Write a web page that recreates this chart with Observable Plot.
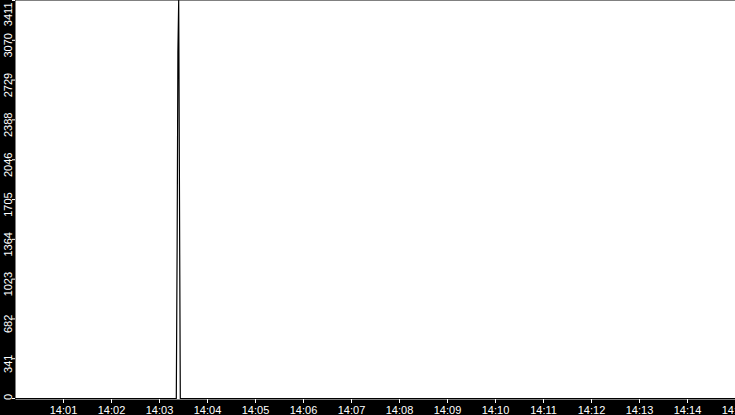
<!DOCTYPE html>
<html><head><meta charset="utf-8">
<script src="https://cdn.jsdelivr.net/npm/d3@7"></script>
<script src="https://cdn.jsdelivr.net/npm/@observablehq/plot@0.6"></script>
<style>
html,body{margin:0;padding:0;background:black;overflow:hidden;}
</style></head><body><div id="chart"></div>
<script>
// Sample times and values (value 0 except the spike just after 14:03)
const times = ["14:00:00","14:03:21","14:03:22","14:03:23","14:03:24","14:03:25","14:03:26","14:15:00"];
const values = [0, 0, 1251, 2965, 3411, 1705, 0, 0];
const xTickLabels = ["14:01","14:02","14:03","14:04","14:05","14:06","14:07","14:08","14:09","14:10","14:11","14:12","14:13","14:14","14:15"];
const yTickValues = [0, 341, 682, 1023, 1364, 1705, 2046, 2388, 2729, 3070, 3411];
const xStart = "14:00:00", xEnd = "14:15:00";

const parseT = d3.timeParse("%H:%M:%S");
const parseM = d3.timeParse("%H:%M");
const data = times.map((t, i) => ({t: parseT(t), v: values[i]}));
const xTicks = xTickLabels.map(parseM);
const fmt = d3.timeFormat("%H:%M");
const yMax = d3.max(yTickValues);
const midTicks = yTickValues.slice(1, -1);
const topTick = [yTickValues[yTickValues.length - 1]];
const botTick = [yTickValues[0]];

const font = "'Liberation Sans', Arial, sans-serif";
const labelOpts = {y: d => d, text: d => String(d), frameAnchor: "left", dx: -7.5, rotate: -90,
  fill: "white", lineAnchor: "middle", fontSize: 11, fontFamily: font};

const chart = Plot.plot({
  width: 735, height: 415,
  marginLeft: 15, marginRight: 0, marginTop: 0, marginBottom: 16,
  style: {background: "black", color: "white", fontFamily: font, fontSize: "11px"},
  x: {type: "time", domain: [parseT(xStart), parseT(xEnd)], ticks: xTicks, tickFormat: fmt,
      tickSize: 4, tickPadding: 3, label: null},
  y: {domain: [0, yMax], range: [398, 0], ticks: yTickValues, tickSize: 3,
      tickFormat: () => "", label: null},
  marks: [
    Plot.frame({fill: "white", stroke: "none"}),
    Plot.line(data, {x: "t", y: "v", stroke: "black", strokeWidth: 1.2}),
    Plot.text(midTicks, {...labelOpts, textAnchor: "middle", dy: 5}),
    Plot.text(topTick, {...labelOpts, textAnchor: "end", dy: 2}),
    Plot.text(botTick, {...labelOpts, textAnchor: "start", dy: 1.5})
  ]
});
document.getElementById("chart").appendChild(chart);
</script>
</body></html>
